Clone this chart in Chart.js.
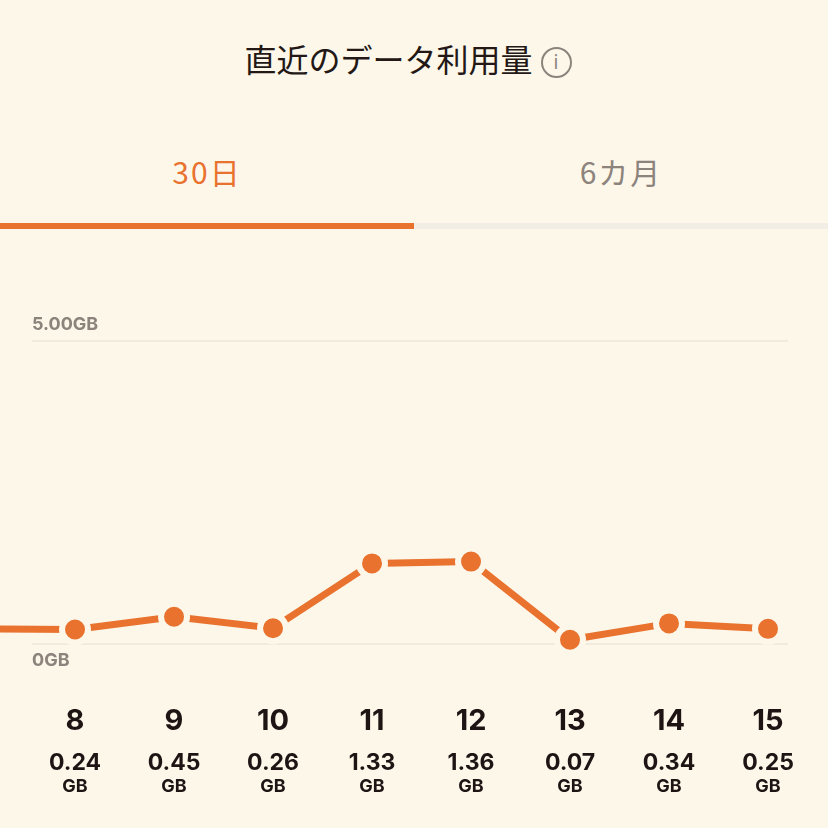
<!DOCTYPE html>
<html lang="ja">
<head>
<meta charset="utf-8">
<script src="https://cdn.jsdelivr.net/npm/chart.js@4/dist/chart.umd.min.js"></script>
<style>
  html, body { margin: 0; padding: 0; background: #fdf7ea; }
  body { width: 828px; height: 828px; position: relative; overflow: hidden;
         font-family: "Noto Sans CJK JP", "Noto Sans", sans-serif; }
  .titulo { position: absolute; top: 34px; left: 0; width: 816px; text-align: center;
            font-size: 32px; color: #231815; line-height: 48px; }
  .info { display: inline-block; width: 27px; height: 27px; border: 2px solid #8c837c;
          border-radius: 50%; color: #8c837c; font-size: 19px; line-height: 27px;
          text-align: center; vertical-align: 3px; margin-left: 8px; font-family: "Noto Sans", sans-serif; }
  .aba { position: absolute; top: 149px; width: 414px; text-align: center; font-size: 30px;
         line-height: 44px; letter-spacing: 2px; }
  .barra { position: absolute; top: 223px; height: 6px; }
  #wrap { position: absolute; left: 0; top: 240px; width: 828px; height: 588px; }
</style>
</head>
<body>
<div class="titulo">直近のデータ利用量<span class="info">i</span></div>
<div class="aba" style="left:0;color:#e8722e;">30日</div>
<div class="aba" style="left:414px;color:#8c837c;">6カ月</div>
<div class="barra" style="left:0;width:414px;background:#e8722e;"></div>
<div class="barra" style="left:414px;width:414px;background:#f2eee5;"></div>
<div id="wrap"><canvas id="grafico" width="828" height="588"></canvas></div>
<script>
// --- dados ---
const dias = [7, 8, 9, 10, 11, 12, 13, 14, 15];
const uso = [0.25, 0.24, 0.45, 0.26, 1.33, 1.36, 0.07, 0.34, 0.25];
const diasVisiveis = [8, 9, 10, 11, 12, 13, 14, 15];
const yTicks = [0, 5];
const yRotulos = ["0GB", "5.00GB"];

const laranja = "#e8722e";
const fundo = "#fdf7ea";

// grade + rotulos desenhados a partir das escalas
const rotulosPlugin = {
  id: "rotulos",
  beforeDatasetsDraw(chart) {
    const { ctx, scales: { y } } = chart;
    ctx.save();
    ctx.strokeStyle = "#f1ebde";
    ctx.lineWidth = 2;
    yTicks.forEach((v) => {
      const py = y.getPixelForValue(v);
      ctx.beginPath();
      ctx.moveTo(32, py);
      ctx.lineTo(788, py);
      ctx.stroke();
    });
    ctx.fillStyle = "#8c837c";
    ctx.font = "bold 18px Inter, 'Noto Sans', sans-serif";
    ctx.textAlign = "left";
    yTicks.forEach((v, i) => {
      const py = y.getPixelForValue(v);
      if (v === 0) { ctx.textBaseline = "top"; ctx.fillText(yRotulos[i], 32, py + 8); }
      else { ctx.textBaseline = "bottom"; ctx.fillText(yRotulos[i], 32, py - 7); }
    });
    ctx.restore();
  },
  afterDraw(chart) {
    const { ctx, scales: { x } } = chart;
    ctx.save();
    ctx.fillStyle = "#1f1414";
    ctx.textAlign = "center";
    ctx.textBaseline = "middle";
    diasVisiveis.forEach((d) => {
      const px = x.getPixelForValue(d);
      const val = uso[dias.indexOf(d)];
      ctx.font = "bold 29px Inter, 'Noto Sans', sans-serif";
      ctx.fillText(String(d), px, 481);
      ctx.font = "bold 23px Inter, 'Noto Sans', sans-serif";
      ctx.fillText(val.toFixed(2), px, 523);
      ctx.font = "bold 18px Inter, 'Noto Sans', sans-serif";
      ctx.fillText("GB", px, 547);
    });
    ctx.restore();
  }
};

new Chart(document.getElementById("grafico").getContext("2d"), {
  type: "line",
  data: {
    datasets: [{
      data: dias.map((d, i) => ({ x: d, y: uso[i] })),
      borderColor: laranja,
      borderWidth: 7,
      pointRadius: dias.map((d) => (d < 8 ? 0 : 13)),
      pointBackgroundColor: laranja,
      pointBorderColor: fundo,
      pointBorderWidth: 6,
      tension: 0,
      clip: false
    }]
  },
  options: {
    responsive: false,
    animation: false,
    events: [],
    layout: { autoPadding: false, padding: { left: 0, right: 0, top: 101, bottom: 184 } },
    plugins: { legend: { display: false }, tooltip: { enabled: false } },
    scales: {
      x: { type: "linear", min: 7.242, max: 15.606, display: false },
      y: { min: 0, max: 5, display: false }
    }
  },
  plugins: [rotulosPlugin]
});
</script>
</body>
</html>
